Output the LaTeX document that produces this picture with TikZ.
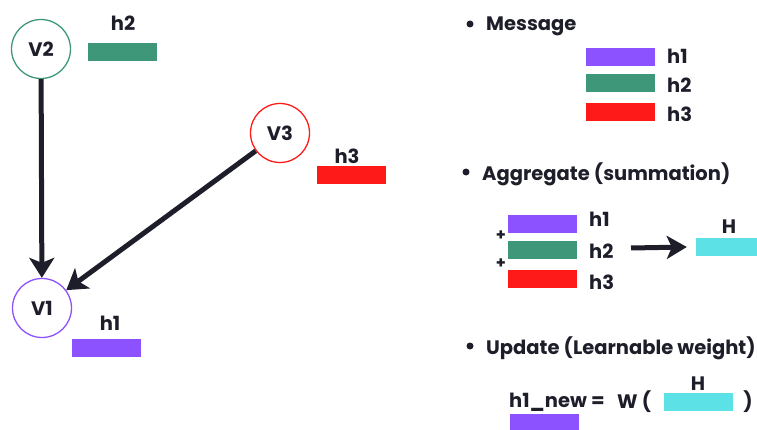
\documentclass[tikz,border=0pt]{standalone}
\usepackage{fontspec}
\setmainfont{Poppins}
\usetikzlibrary{arrows.meta}
\definecolor{ink}{HTML}{1E1E2A}
\definecolor{vpurple}{HTML}{8C52FF}
\definecolor{vgreen}{HTML}{3D9778}
\definecolor{vred}{HTML}{FF1A1A}
\definecolor{vcyan}{HTML}{5CE1E6}
\newcommand{\txtfont}{\fontsize{19.5}{19.5}\selectfont\bfseries}
\tikzset{
  vertex/.style={circle, draw=#1, line width=1.3pt, minimum size=59pt, inner sep=0pt,
    text=ink, font=\txtfont},
  bar/.style={rectangle, fill=#1, draw=none, minimum width=69pt, minimum height=18pt, inner sep=0pt},
  lbl/.style={text=ink, font=\txtfont, inner sep=0pt},
  head/.style={text=ink, font=\txtfont, inner sep=0pt, anchor=west},
  dot/.style={circle, fill=ink, minimum size=7pt, inner sep=0pt},
  plus/.style={text=ink, font=\fontsize{16}{16}\selectfont\bfseries, inner sep=0pt},
  edge/.style={draw=ink, line width=5pt, -{Stealth[length=20pt, width=25pt, inset=5pt]}},
}
\begin{document}
\begin{tikzpicture}[x=1pt, y=-1pt]
  \useasboundingbox (0,0) rectangle (757,430);
  \clip (0,0) rectangle (757,430);

  % graph: three vertices with their feature vectors
  \node[vertex=vgreen]  (v2) at (41,49)  {V2};
  \node[vertex=vred]    (v3) at (280,133) {V3};
  \node[vertex=vpurple] (v1) at (42,308) {V1};

  \node[bar=vgreen]  (f2) at (122.5,52.5)  {};
  \node[lbl] (f2l) at (123,23) {h2};
  \node[bar=vred]    (f3) at (351.5,175.5) {};
  \node[lbl] (f3l) at (347,156) {h3};
  \node[bar=vpurple] (f1) at (106.5,348)   {};
  \node[lbl] (f1l) at (110,323) {h1};

  \draw[edge] (v2) -- (v1);
  \draw[edge] (v3) -- (v1);

  % Message
  \node[dot] (d1) at (470,24) {};
  \node[head] (t1) at (486,26) {Message};
  \node[bar=vpurple] (m1) at (620.5,57)   {};
  \node[bar=vgreen]  (m2) at (620.5,83.5) {};
  \node[bar=vred]    (m3) at (620.5,112)  {};
  \node[lbl, anchor=west] (m1l) at (667,56)  {h1};
  \node[lbl, anchor=west] (m2l) at (667,85)  {h2};
  \node[lbl, anchor=west] (m3l) at (667,114) {h3};

  % Aggregate
  \node[dot] (d2) at (466,172) {};
  \node[head] (t2) at (482,174) {Aggregate (summation)};
  \node[bar=vpurple] (a1) at (542.5,224.5) {};
  \node[bar=vgreen]  (a2) at (542.5,250)   {};
  \node[bar=vred]    (a3) at (542.5,279)   {};
  \node[lbl, anchor=west] (a1l) at (589,219) {h1};
  \node[lbl, anchor=west] (a2l) at (589,251) {h2};
  \node[lbl, anchor=west] (a3l) at (589,282) {h3};
  \node[plus] (p1) at (501,236) {+};
  \node[plus] (p2) at (501,264) {+};
  \node[bar=vcyan, minimum width=69pt] (agg) at (730.5,247) {};
  \node[lbl] (aggl) at (729,227) {H};
  \coordinate (s) at (631,248);
  \draw[draw=ink, line width=5pt, -{Stealth[length=20pt, width=23pt, inset=5pt]}] (s) -- ([xshift=-9pt]agg.west);

  % Update
  \node[dot] (d3) at (470,346) {};
  \node[head] (t3) at (486,348) {Update (Learnable weight)};
  \node[head] (eq) at (509,402) {h1\_new =};
  \node[head] (w) at (617,402) {W (};
  \node[bar=vcyan] (u) at (698.5,402) {};
  \node[lbl] (ul) at (698,384) {H};
  \node[lbl] (cp) at (748,402) {)};
  \node[bar=vpurple] (nw) at (544.5,423) {};
\end{tikzpicture}
\end{document}
